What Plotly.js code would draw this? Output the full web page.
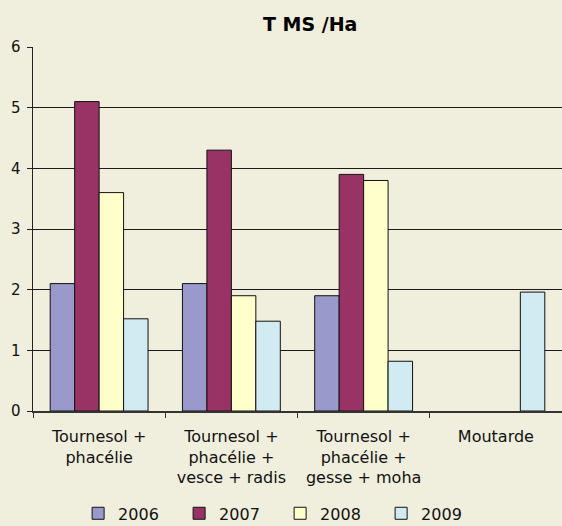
<!DOCTYPE html>
<html><head><meta charset="utf-8">
<script src="https://cdn.plot.ly/plotly-3.0.1.min.js"></script>
<style>html,body{margin:0;padding:0;background:#F0EEDC;}</style>
</head><body>
<div id="chart" style="width:562px;height:526px;"></div>
<script>
const categories = ["Tournesol +<br>phacélie", "Tournesol +<br>phacélie +<br>vesce + radis", "Tournesol +<br>phacélie +<br>gesse + moha", "Moutarde"];
const years = ["2006", "2007", "2008", "2009"];
const v2006 = [2.1, 2.1, 1.9, null];
const v2007 = [5.1, 4.3, 3.9, null];
const v2008 = [3.6, 1.9, 3.8, null];
const v2009 = [1.52, 1.48, 0.82, 1.96];
const colors = ["#9999CC", "#993366", "#FFFFCC", "#D2EAF2"];
const series = [v2006, v2007, v2008, v2009];

const font = "'DejaVu Sans', sans-serif";
const traces = series.map((vals, i) => ({
  type: "bar", name: years[i], x: categories, y: vals,
  marker: {color: colors[i], line: {color: "#111", width: 1}},
  hoverinfo: "skip"
}));

const layout = {
  width: 562, height: 526,
  paper_bgcolor: "#F0EEDC", plot_bgcolor: "#F0EEDC",
  margin: {l: 33, r: 0, t: 47, b: 115, autoexpand: false},
  barmode: "group", bargap: 0.26, bargroupgap: 0,
  title: {text: "<b>T MS /Ha</b>", font: {family: font, size: 19, color: "#000"}, xref: "container", x: 0.552, xanchor: "center", yref: "container", y: 0.953, yanchor: "middle"},
  font: {family: font, size: 15, color: "#111"},
  xaxis: {showline: true, linecolor: "#333", linewidth: 1.5, ticks: "outside", tickson: "boundaries", ticklen: 5, tickcolor: "#333", showgrid: false, tickfont: {size: 16}, ticklabelstandoff: 10, automargin: false},
  yaxis: {range: [0, 6], dtick: 1, showline: true, linecolor: "#222", linewidth: 1.5, ticks: "outside", ticklen: 5, tickcolor: "#222", showgrid: true, gridcolor: "#1a1a1a", gridwidth: 1, zeroline: false, tickfont: {size: 15}, ticklabelstandoff: 3, automargin: false},
  showlegend: true,
  legend: {orientation: "h", xref: "container", x: 0.139, xanchor: "left", yref: "container", y: 0.024, yanchor: "middle", font: {size: 16}, entrywidth: 56, itemwidth: 30, traceorder: "normal", bgcolor: "rgba(0,0,0,0)"}
};
Plotly.newPlot("chart", traces, layout, {displayModeBar: false, staticPlot: true});
</script>
</body></html>
